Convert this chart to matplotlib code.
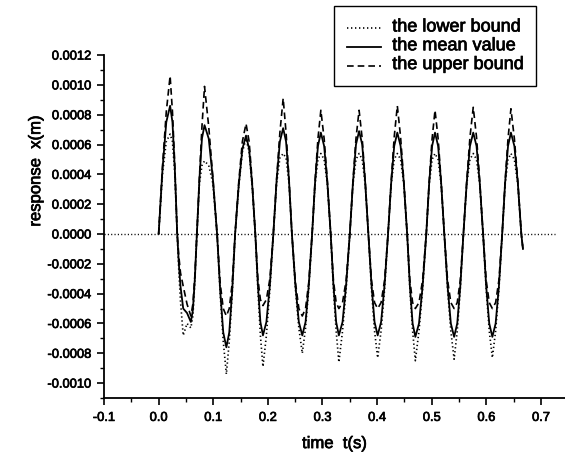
import matplotlib
matplotlib.use("Agg")
import matplotlib.pyplot as plt
import matplotlib.patheffects as pe
from matplotlib.lines import Line2D
from matplotlib.ticker import MultipleLocator, FormatStrFormatter
from matplotlib.legend_handler import HandlerLine2D

plt.rcParams['font.family'] = ['Liberation Sans', 'DejaVu Sans']

# time samples (s), one row per half cycle of the response
t = [0.000, 0.007, 0.014, 0.021, 0.0253, 0.0297, 0.034,
     0.037, 0.040, 0.045, 0.052, 0.059, 0.0627, 0.0663, 0.070,
     0.0747, 0.0793, 0.084, 0.0917, 0.0993, 0.107,
     0.1127, 0.1183, 0.124, 0.1293, 0.1347, 0.140,
     0.1467, 0.1533, 0.160, 0.1657, 0.1713, 0.177,
     0.1817, 0.1863, 0.191, 0.1973, 0.2037, 0.210,
     0.216, 0.222, 0.228, 0.2333, 0.2387, 0.244,
     0.2503, 0.2567, 0.263, 0.269, 0.275, 0.281,
     0.2863, 0.2917, 0.297, 0.303, 0.309, 0.315,
     0.320, 0.325, 0.330, 0.3367, 0.3433, 0.350,
     0.3557, 0.3613, 0.367, 0.3727, 0.3783, 0.384,
     0.3897, 0.3953, 0.401, 0.4073, 0.4137, 0.420,
     0.4257, 0.4313, 0.437, 0.443, 0.449, 0.455,
     0.460, 0.465, 0.470, 0.4767, 0.4833, 0.490,
     0.4953, 0.5007, 0.506, 0.5117, 0.5173, 0.523,
     0.529, 0.535, 0.541, 0.5467, 0.5523, 0.558,
     0.564, 0.570, 0.576, 0.582, 0.588, 0.594,
     0.5997, 0.6053, 0.611, 0.617, 0.623, 0.629,
     0.6343, 0.6397, 0.645, 0.6513, 0.6577, 0.664,
     0.667]

x_mean = [0, 0.00043, 0.00075, 0.00086, 0.00075, 0.00043, 0,
          -0.00020, -0.00035, -0.00050, -0.00053, -0.00059, -0.00051, -0.00030, 0,
          0.00037, 0.00064, 0.00073, 0.00064, 0.00037, 0,
          -0.00038, -0.00066, -0.00076, -0.00066, -0.00038, 0,
          0.00033, 0.00057, 0.00066, 0.00057, 0.00033, 0,
          -0.00034, -0.00059, -0.00068, -0.00059, -0.00034, 0,
          0.00036, 0.00062, 0.00071, 0.00062, 0.00036, 0,
          -0.00034, -0.00059, -0.00068, -0.00059, -0.00034, 0,
          0.00034, 0.00059, 0.00068, 0.00059, 0.00034, 0,
          -0.00034, -0.00059, -0.00068, -0.00059, -0.00034, 0,
          0.00034, 0.00060, 0.00069, 0.00060, 0.00034, 0,
          -0.00034, -0.00059, -0.00068, -0.00059, -0.00034, 0,
          0.00034, 0.00059, 0.00068, 0.00059, 0.00034, 0,
          -0.00035, -0.00060, -0.00069, -0.00060, -0.00035, 0,
          0.00034, 0.00059, 0.00068, 0.00059, 0.00034, 0,
          -0.00035, -0.00060, -0.00069, -0.00060, -0.00035, 0,
          0.00034, 0.00059, 0.00068, 0.00059, 0.00034, 0,
          -0.00035, -0.00060, -0.00069, -0.00060, -0.00035, 0,
          0.00034, 0.00059, 0.00068, 0.00059, 0.00034, 0,
          -0.00010]

x_upper = [0, 0.00045, 0.00082, 0.00106, 0.00082, 0.00045, 0,
           -0.00015, -0.00026, -0.00035, -0.00047, -0.00055, -0.00047, -0.00028, 0,
           0.00038, 0.00072, 0.00099, 0.00072, 0.00038, 0,
           -0.00033, -0.00050, -0.00055, -0.00050, -0.00033, 0,
           0.00035, 0.00062, 0.00074, 0.00062, 0.00035, 0,
           -0.00030, -0.00044, -0.00048, -0.00044, -0.00030, 0,
           0.00037, 0.00068, 0.00091, 0.00068, 0.00037, 0,
           -0.00032, -0.00050, -0.00055, -0.00050, -0.00032, 0,
           0.00035, 0.00064, 0.00083, 0.00064, 0.00035, 0,
           -0.00031, -0.00046, -0.00050, -0.00046, -0.00031, 0,
           0.00035, 0.00064, 0.00083, 0.00064, 0.00035, 0,
           -0.00031, -0.00046, -0.00050, -0.00046, -0.00031, 0,
           0.00035, 0.00065, 0.00086, 0.00065, 0.00035, 0,
           -0.00031, -0.00046, -0.00050, -0.00046, -0.00031, 0,
           0.00035, 0.00064, 0.00083, 0.00064, 0.00035, 0,
           -0.00031, -0.00046, -0.00050, -0.00046, -0.00031, 0,
           0.00035, 0.00065, 0.00085, 0.00065, 0.00035, 0,
           -0.00031, -0.00046, -0.00050, -0.00046, -0.00031, 0,
           0.00035, 0.00064, 0.00084, 0.00064, 0.00035, 0,
           -0.00010]

x_lower = [0, 0.00040, 0.00062, 0.00067, 0.00062, 0.00040, 0,
           -0.00025, -0.00045, -0.00068, -0.00060, -0.00063, -0.00055, -0.00032, 0,
           0.00034, 0.00046, 0.00049, 0.00046, 0.00034, 0,
           -0.00040, -0.00072, -0.00094, -0.00072, -0.00040, 0,
           0.00032, 0.00055, 0.00064, 0.00055, 0.00032, 0,
           -0.00037, -0.00068, -0.00089, -0.00068, -0.00037, 0,
           0.00034, 0.00051, 0.00054, 0.00051, 0.00034, 0,
           -0.00036, -0.00063, -0.00080, -0.00063, -0.00036, 0,
           0.00033, 0.00050, 0.00054, 0.00050, 0.00033, 0,
           -0.00037, -0.00065, -0.00086, -0.00065, -0.00037, 0,
           0.00033, 0.00050, 0.00054, 0.00050, 0.00033, 0,
           -0.00037, -0.00065, -0.00083, -0.00065, -0.00037, 0,
           0.00033, 0.00050, 0.00054, 0.00050, 0.00033, 0,
           -0.00037, -0.00065, -0.00085, -0.00065, -0.00037, 0,
           0.00033, 0.00050, 0.00054, 0.00050, 0.00033, 0,
           -0.00037, -0.00065, -0.00084, -0.00065, -0.00037, 0,
           0.00033, 0.00050, 0.00054, 0.00050, 0.00033, 0,
           -0.00037, -0.00065, -0.00083, -0.00065, -0.00037, 0,
           0.00033, 0.00050, 0.00054, 0.00050, 0.00033, 0,
           -0.00010]

zero_t = [-0.1, 0.725]
zero_x = [0.0, 0.0]

labels = ['the lower bound', 'the mean value', 'the upper bound']


class BaselineHandler(HandlerLine2D):
    # draw the legend sample near the text baseline, like the original
    def create_artists(self, legend, orig_handle, xdescent, ydescent,
                       width, height, fontsize, trans):
        return super().create_artists(legend, orig_handle, xdescent,
                                      ydescent + 0.45 * height, width, height,
                                      fontsize, trans)


def main():
    fig = plt.figure(figsize=(5.65, 4.56), dpi=100)
    ax = fig.add_axes([0.1841, 0.125, 0.8159, 0.752])

    dotted = (0, (0.8, 1.6))
    dashed = (0, (4.0, 2.4))

    ax.plot(zero_t, zero_x, color='black', lw=1.0, linestyle=dotted)
    l1, = ax.plot(t, x_lower, color='black', lw=1.2, linestyle=dotted)
    l2, = ax.plot(t, x_mean, color='black', lw=1.3, linestyle='-')
    l3, = ax.plot(t, x_upper, color='black', lw=1.2, linestyle=dashed)

    ax.set_xlim(-0.1, 0.744)
    ax.set_ylim(-0.0011, 0.0012)

    ax.xaxis.set_major_locator(MultipleLocator(0.1))
    ax.xaxis.set_minor_locator(MultipleLocator(0.05))
    ax.yaxis.set_major_locator(MultipleLocator(0.0002))
    ax.yaxis.set_minor_locator(MultipleLocator(0.0001))
    ax.xaxis.set_major_formatter(FormatStrFormatter('%.1f'))
    ax.yaxis.set_major_formatter(FormatStrFormatter('%.4f'))

    ax.spines['top'].set_visible(False)
    ax.spines['right'].set_visible(False)
    for s in ('left', 'bottom'):
        ax.spines[s].set_linewidth(1.3)
    ax.tick_params(which='major', direction='out', length=5, width=1.2,
                   labelsize=9.3, pad=4)
    ax.tick_params(which='minor', direction='out', length=3, width=1.0)
    ax.tick_params(axis='x', which='major', pad=5)

    ax.set_xlabel('time  t(s)', fontsize=12)
    ax.set_ylabel('response  x(m)', fontsize=12)
    ax.xaxis.set_label_coords(0.5, -0.111)
    ax.yaxis.set_label_coords(-0.132, 0.662)

    leg = fig.legend([l1, l2, l3], labels, loc='upper right',
                     bbox_to_anchor=(0.9487, 0.985), bbox_transform=fig.transFigure,
                     borderaxespad=0.0,
                     fontsize=13, frameon=True, fancybox=False, framealpha=1,
                     edgecolor='black', handlelength=1.9, handletextpad=0.6,
                     labelspacing=0.1, borderpad=0.7,
                     handler_map={Line2D: BaselineHandler()})
    leg.get_frame().set_linewidth(1.0)

    # the scanned original has heavy ink, so thicken the glyphs a little
    heavy = [pe.withStroke(linewidth=0.5, foreground='black')]
    texts = (ax.get_xticklabels() + ax.get_yticklabels() + leg.get_texts()
             + [ax.xaxis.label, ax.yaxis.label])
    for txt in texts:
        txt.set_path_effects(heavy)

    fig.savefig('out.png', dpi=100)


if __name__ == "__main__":
    main()
